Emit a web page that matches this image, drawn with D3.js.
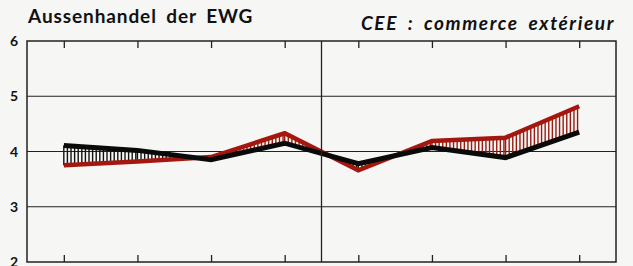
<!DOCTYPE html>
<html>
<head>
<meta charset="utf-8">
<script src="https://cdn.jsdelivr.net/npm/d3@7"></script>
<style>
  body { margin: 0; background: #f6f6f4; }
  svg { display: block; }
  text { font-family: "Lato", "Open Sans", sans-serif; fill: #111; }
</style>
</head>
<body>
<svg id="chart"></svg>
<script>
// two panels of four periods each
const periods = ["a1", "a2", "a3", "a4", "b1", "b2", "b3", "b4"];
const blackSeries = [4.11, 4.02, 3.85, 4.15, 3.78, 4.07, 3.89, 4.35];
const redSeries = [3.75, 3.82, 3.90, 4.33, 3.66, 4.19, 4.25, 4.82];
const yTicks = [2, 3, 4, 5, 6];

const width = 633, height = 266;
const mLeft = 27, mRight = 616, mTop = 41, mBottom = 262;

const svg = d3.select("#chart").attr("width", width).attr("height", height);

const x = d3.scalePoint().domain(periods).range([mLeft, mRight]).padding(0.5);
const y = d3.scaleLinear().domain([2, 6]).range([mBottom, mTop]);

// titles
svg.append("text").attr("x", 28).attr("y", 23)
  .style("font-size", "19px").style("font-weight", "bold")
  .style("letter-spacing", "0.9px").style("word-spacing", "4px")
  .text("Aussenhandel der EWG");
svg.append("text").attr("x", 615).attr("y", 30)
  .attr("text-anchor", "end")
  .style("font-size", "19px").style("font-weight", "bold").style("font-style", "italic")
  .style("letter-spacing", "1.6px").style("word-spacing", "4px")
  .text("CEE : commerce extérieur");

// grid lines
svg.append("g").selectAll("line").data(yTicks.filter(d => d > 2 && d < 6)).enter().append("line")
  .attr("x1", mLeft).attr("x2", mRight)
  .attr("y1", d => y(d)).attr("y2", d => y(d))
  .attr("stroke", "#222").attr("stroke-width", 1.2);

// y labels
svg.append("g").selectAll("text").data(yTicks).enter().append("text")
  .attr("x", 14).attr("y", d => y(d) + 5)
  .attr("text-anchor", "middle")
  .style("font-size", "14px").style("font-weight", "bold")
  .text(d => d);

// hatching between the two series
const hatch = svg.append("g");
const step = 3.6;
for (let i = 0; i < periods.length - 1; i++) {
  const x0 = x(periods[i]), x1 = x(periods[i + 1]);
  for (let px = x0; px <= x1 + 0.01; px += step) {
    const t = (px - x0) / (x1 - x0);
    const b = blackSeries[i] + t * (blackSeries[i + 1] - blackSeries[i]);
    const r = redSeries[i] + t * (redSeries[i + 1] - redSeries[i]);
    hatch.append("line")
      .attr("x1", px).attr("x2", px)
      .attr("y1", y(b)).attr("y2", y(r))
      .attr("stroke", b > r ? "#111" : "#9a1b12")
      .attr("stroke-width", 1.4);
  }
}

const line = d3.line().x((d, i) => x(periods[i])).y(d => y(d));

svg.append("path").datum(redSeries)
  .attr("d", line).attr("fill", "none")
  .attr("stroke", "#a3170f").attr("stroke-width", 4.5)
  .attr("stroke-linejoin", "miter");
svg.append("path").datum(blackSeries)
  .attr("d", line).attr("fill", "none")
  .attr("stroke", "#0a0a0a").attr("stroke-width", 5)
  .attr("stroke-linejoin", "miter");

// frame and divider
svg.append("rect").attr("x", mLeft).attr("y", mTop)
  .attr("width", mRight - mLeft).attr("height", mBottom - mTop)
  .attr("fill", "none").attr("stroke", "#222").attr("stroke-width", 1.5);
svg.append("line")
  .attr("x1", (mLeft + mRight) / 2).attr("x2", (mLeft + mRight) / 2)
  .attr("y1", mTop).attr("y2", mBottom)
  .attr("stroke", "#222").attr("stroke-width", 1.3);

// period ticks top and bottom
const topAxis = svg.append("g").attr("transform", `translate(0,${mTop})`)
  .call(d3.axisTop(x).tickSize(-7).tickFormat(""));
const bottomAxis = svg.append("g").attr("transform", `translate(0,${mBottom})`)
  .call(d3.axisBottom(x).tickSize(-7).tickFormat(""));
[topAxis, bottomAxis].forEach(a => {
  a.select(".domain").remove();
  a.selectAll("line").attr("stroke", "#222").attr("stroke-width", 1.3);
});
</script>
</body>
</html>
